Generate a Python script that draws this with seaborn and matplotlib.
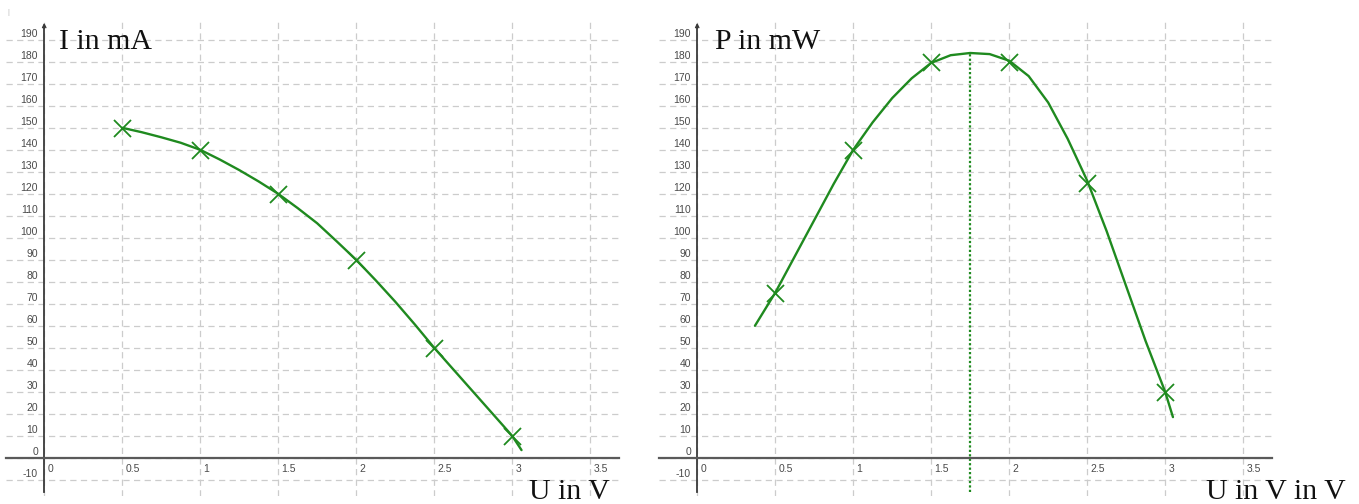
import numpy as np
import pandas as pd
import matplotlib
matplotlib.use('Agg')
import matplotlib.pyplot as plt
import matplotlib.transforms as mtrans
import seaborn as sns

# measured points
U_meas = [0.5, 1.0, 1.5, 2.0, 2.5, 3.0]
I_meas = [150, 140, 120, 90, 50, 10]
P_meas = [75, 140, 180, 180, 125, 30]

# fitted curves
U_I_curve = [0.5, 0.625, 0.75, 0.875, 1.0, 1.125, 1.25, 1.375, 1.5, 1.625, 1.75,
             1.875, 2.0, 2.125, 2.25, 2.375, 2.5, 2.625, 2.75, 2.875, 3.0, 3.06]
I_curve = [150, 148, 145.7, 143.2, 140, 135.6, 130.8, 125.6, 120, 113.5, 106.6,
           98.4, 90, 80.7, 71, 60.7, 50, 40, 30, 20, 10, 3.5]

U_P_curve = [0.37, 0.5, 0.625, 0.75, 0.875, 1.0, 1.125, 1.25, 1.375, 1.5, 1.625, 1.75,
             1.875, 2.0, 2.125, 2.25, 2.375, 2.5, 2.625, 2.75, 2.875, 3.0, 3.05]
P_curve = [60, 75, 91.5, 108, 124.5, 140, 152.5, 163.5, 172.5, 179.5, 183, 184,
           183.5, 180.5, 173.5, 161.5, 145, 126, 103, 78, 53, 30, 18.5]

U_mpp = 1.75
P_mpp = 184

x_ticks = [0, 0.5, 1, 1.5, 2, 2.5, 3, 3.5]
x_labels = ['0', '0.5', '1', '1.5', '2', '2.5', '3', '3.5']
y_ticks = list(range(-10, 200, 10))

titles = ['I in mA', 'P in mW']
xlabels = ['U in V', 'U in V in V']

GREEN = '#1f8a1f'
W, H = 1359, 504

sns.set_style('white')
plt.rcParams['font.family'] = ['Liberation Sans', 'DejaVu Sans']

fig = plt.figure(figsize=(W / 100, H / 100), dpi=100)

def setup_axes(left_px):
    ax = fig.add_axes([left_px / W, (H - 496.3) / H, 613 / W, 476.3 / H])
    ax.set_xlim(-0.245, 3.685)
    ax.set_ylim(-17.5, 199)
    for s in ['top', 'right']:
        ax.spines[s].set_visible(False)
    ax.spines['left'].set_position(('data', 0))
    ax.spines['bottom'].set_position(('data', 0))
    ax.spines['left'].set_bounds(-15.5, 196)
    ax.spines['left'].set_color('#3a3a3a')
    ax.spines['bottom'].set_color('#5a5a5a')
    ax.spines['left'].set_linewidth(1.3)
    ax.spines['bottom'].set_linewidth(1.6)
    ax.annotate('', xy=(0, 199), xytext=(0, 194),
                arrowprops=dict(arrowstyle='->', color='#3a3a3a', lw=1.0,
                                mutation_scale=6))
    ax.set_xticks(x_ticks, x_labels)
    ax.set_yticks(y_ticks, [str(v) for v in y_ticks])
    ax.tick_params(axis='both', direction='out', length=4, width=0.8,
                   color='#555555', labelsize=7.5, labelcolor='#4a4a4a', pad=0.5)
    ax.grid(True, color='#cccccc', lw=0.9, ls=(0, (5, 3.5)))
    ax.set_axisbelow(True)
    for t in ax.xaxis.get_major_ticks():
        t.label1.set_ha('left')
        t.label1.set_transform(t.label1.get_transform() +
                               mtrans.ScaledTranslation(2.5 / 72, 0, fig.dpi_scale_trans))
    for t in ax.yaxis.get_major_ticks():
        t.label1.set_va('bottom')
        t.label1.set_transform(t.label1.get_transform() +
                               mtrans.ScaledTranslation(0, 0.8 / 72, fig.dpi_scale_trans))
    return ax

ax1 = setup_axes(6)
ax2 = setup_axes(659)

df_meas = pd.DataFrame({'U': U_meas, 'I': I_meas, 'P': P_meas})
df_I = pd.DataFrame({'U': U_I_curve, 'I': I_curve})
df_P = pd.DataFrame({'U': U_P_curve, 'P': P_curve})

sns.lineplot(data=df_I, x='U', y='I', sort=False, color=GREEN, lw=1.7, ax=ax1)
sns.scatterplot(data=df_meas, x='U', y='I', marker='x', s=150, color=GREEN,
                linewidth=1.3, ax=ax1, zorder=5)

sns.lineplot(data=df_P, x='U', y='P', sort=False, color=GREEN, lw=1.7, ax=ax2)
sns.scatterplot(data=df_meas, x='U', y='P', marker='x', s=150, color=GREEN,
                linewidth=1.3, ax=ax2, zorder=5)
ax2.plot([U_mpp, U_mpp], [-15.5, P_mpp], color=GREEN, lw=1.6, ls=(0, (1, 1)))

for ax in (ax1, ax2):
    ax.set_xlabel('')
    ax.set_ylabel('')

# headings inside the axes (serif like the original)
fig.text(59 / W, 1 - 49 / H, titles[0], family='Liberation Serif', size=21.5,
         color='#111111', va='baseline', ha='left')
fig.text(715 / W, 1 - 49 / H, titles[1], family='Liberation Serif', size=21.5,
         color='#111111', va='baseline', ha='left')
fig.text(610 / W, 1 - 499 / H, xlabels[0], family='Liberation Serif', size=21.5,
         color='#111111', va='baseline', ha='right')
fig.text(1346 / W, 1 - 499 / H, xlabels[1], family='Liberation Serif', size=21.5,
         color='#111111', va='baseline', ha='right')
fig.text(7 / W, 1 - 14 / H, '|', size=5, color='#bbbbbb')

fig.savefig('out.png', dpi=100)
